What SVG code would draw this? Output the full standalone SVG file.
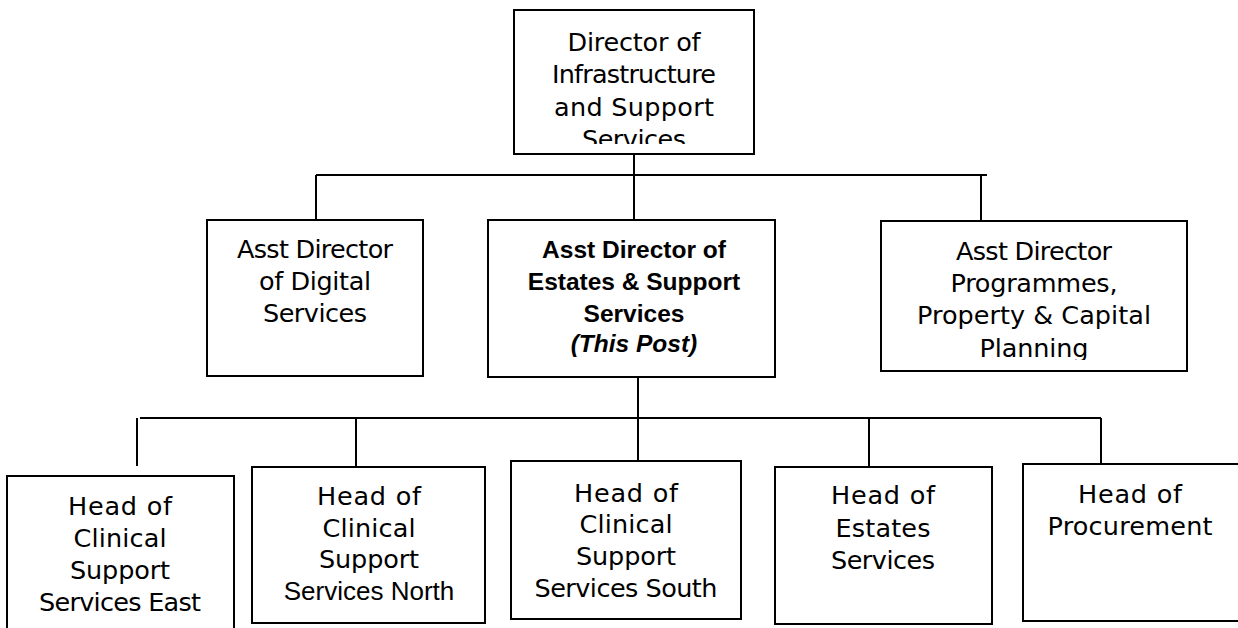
<svg xmlns="http://www.w3.org/2000/svg" width="1238" height="628" viewBox="0 0 1238 628">
  <style>
    .box{fill:#fff;stroke:#000;stroke-width:2}
    .wire{fill:none;stroke:#000;stroke-width:2}
    .t{font-family:"DejaVu Sans","Liberation Sans",sans-serif;font-size:25.5px;fill:#000;text-anchor:middle}
    .a{font-family:"Liberation Sans",Arial,sans-serif;font-size:26px;fill:#000;text-anchor:middle}
    .b{font-family:"Liberation Sans",Arial,sans-serif;font-size:24.5px;font-weight:bold;fill:#000;text-anchor:middle}
    .bi{font-style:italic}
  </style>
  <defs>
    <clipPath id="clip-top"><rect x="514" y="10" width="240" height="134"/></clipPath>
    <clipPath id="clip-prog"><rect x="881" y="221" width="306" height="139"/></clipPath>
  </defs>

  <!-- reporting lines -->
  <g id="connectors">
    <path class="wire" d="M634 154V221"/>
    <path class="wire" d="M316 175H987"/>
    <path class="wire" d="M316 175V221"/>
    <path class="wire" d="M981 176V223"/>
    <path class="wire" d="M638 377V461"/>
    <path class="wire" d="M140 418H1101"/>
    <path class="wire" d="M137 418V466"/>
    <path class="wire" d="M356 418V467"/>
    <path class="wire" d="M869 418V467"/>
    <path class="wire" d="M1101 418V464"/>
  </g>

  <g id="director">
    <rect class="box" x="514" y="10" width="240" height="144"/>
    <g clip-path="url(#clip-top)">
      <text class="t" x="634" y="51" textLength="133">Director of</text>
      <text class="t" x="634" y="83" textLength="164">Infrastructure</text>
      <text class="t" x="634" y="115.5" textLength="160">and Support</text>
      <text class="t" x="634" y="148" textLength="104">Services</text>
    </g>
  </g>

  <g id="ad-digital">
    <rect class="box" x="207" y="220" width="216" height="156"/>
    <text class="t" x="315" y="258" textLength="156">Asst Director</text>
    <text class="t" x="315" y="290" textLength="112">of Digital</text>
    <text class="t" x="315" y="322" textLength="104">Services</text>
  </g>

  <g id="ad-estates">
    <rect class="box" x="488" y="220" width="287" height="157"/>
    <text class="b" x="634" y="258">Asst Director of</text>
    <text class="b" x="634" y="290">Estates &amp; Support</text>
    <text class="b" x="634" y="322">Services</text>
    <text class="b bi" x="634" y="352">(This Post)</text>
  </g>

  <g id="ad-programmes">
    <rect class="box" x="881" y="221" width="306" height="150"/>
    <g clip-path="url(#clip-prog)">
      <text class="t" x="1034" y="260" textLength="156">Asst Director</text>
      <text class="t" x="1034" y="292" textLength="167">Programmes,</text>
      <text class="t" x="1034" y="324" textLength="234">Property &amp; Capital</text>
      <text class="t" x="1034" y="357" textLength="109">Planning</text>
    </g>
  </g>

  <g id="head-east">
    <rect class="box" x="7" y="476" width="227" height="170"/>
    <text class="t" x="120" y="515" textLength="104">Head of</text>
    <text class="t" x="120" y="547" textLength="93">Clinical</text>
    <text class="t" x="120" y="579" textLength="100">Support</text>
    <text class="t" x="120" y="611" textLength="162">Services East</text>
  </g>

  <g id="head-north">
    <rect class="box" x="252" y="467" width="233" height="156"/>
    <text class="t" x="369" y="505" textLength="104">Head of</text>
    <text class="t" x="369" y="537" textLength="93">Clinical</text>
    <text class="t" x="369" y="568" textLength="100">Support</text>
    <text class="a" x="369" y="600">Services North</text>
  </g>

  <g id="head-south">
    <rect class="box" x="511" y="461" width="230" height="158"/>
    <text class="t" x="626" y="502" textLength="104">Head of</text>
    <text class="t" x="626" y="533" textLength="93">Clinical</text>
    <text class="t" x="626" y="565" textLength="100">Support</text>
    <text class="t" x="626" y="597" textLength="183">Services South</text>
  </g>

  <g id="head-estates">
    <rect class="box" x="775" y="467" width="217" height="157"/>
    <text class="t" x="883" y="504" textLength="104">Head of</text>
    <text class="t" x="883" y="537" textLength="95">Estates</text>
    <text class="t" x="883" y="569" textLength="104">Services</text>
  </g>

  <g id="head-procurement">
    <rect class="box" x="1023" y="464" width="230" height="157"/>
    <text class="t" x="1130" y="503" textLength="104">Head of</text>
    <text class="t" x="1130" y="535" textLength="165">Procurement</text>
  </g>
</svg>
